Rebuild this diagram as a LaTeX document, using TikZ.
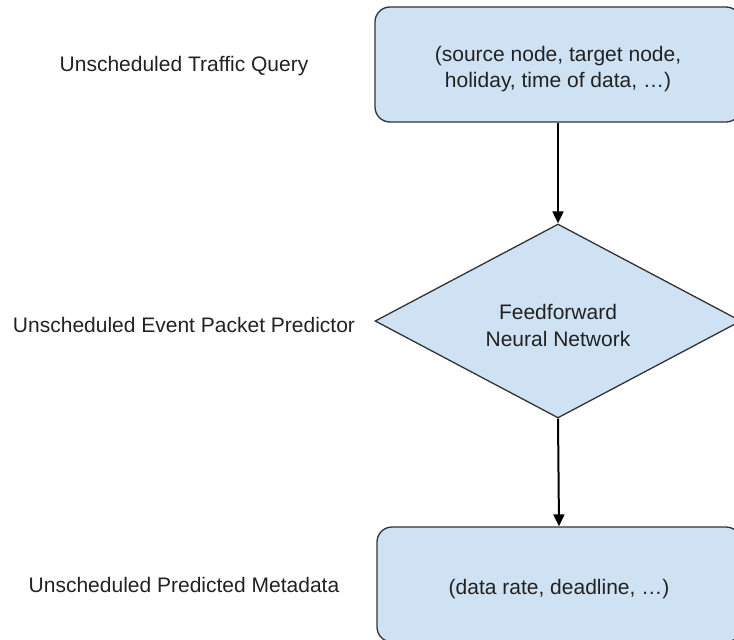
\documentclass[tikz,border=0pt]{standalone}
\usepackage{fontspec}
\setmainfont{Liberation Sans}
\usetikzlibrary{shapes.geometric,arrows.meta}
\definecolor{boxfill}{HTML}{CFE2F3}
\definecolor{boxline}{HTML}{333333}
\definecolor{txt}{HTML}{222222}
\tikzset{
  labeltext/.style={text=txt,font=\fontsize{21}{26.5}\selectfont,align=center},
  roundbox/.style={draw=boxline,fill=boxfill,line width=1.3pt,rounded corners=15pt,inner sep=0pt},
  decision/.style={diamond,draw=boxline,fill=boxfill,line width=1.3pt,inner sep=0pt},
  flow/.style={-{Triangle[length=12pt,width=11pt]},line width=2pt,black},
}
\begin{document}
\begin{tikzpicture}[x=1pt,y=-1pt]
  \useasboundingbox (0,0) rectangle (734,640);
  \clip (0,0) rectangle (734,640);
  % flow chart shapes on the right
  \node[roundbox,minimum width=366pt,minimum height=115pt] (query) at (558,64.5) {};
  \node[decision,minimum width=366pt,minimum height=194pt] (ffnn) at (558,321) {};
  \node[roundbox,minimum width=364pt,minimum height=115pt] (meta) at (559,584.5) {};
  % texts inside the shapes
  \node[labeltext] (querytext) at ([yshift=-4.5pt]query.center)
    {(source node, target node,\\holiday, time of data, …)};
  \node[labeltext] (ffnntext) at ([yshift=-4.5pt]ffnn.center)
    {Feedforward\\Neural Network};
  \node[labeltext] (metatext) at ([yshift=-5pt]meta.center)
    {(data rate, deadline, …)};
  % connectors
  \draw[flow] (query.south) -- (ffnn.north);
  \draw[flow] (ffnn.south) -- (meta.north);
  % stage captions on the left
  \node[labeltext] (capquery) at (184,66) {Unscheduled Traffic Query};
  \node[labeltext] (capffnn) at (184,325) {Unscheduled Event Packet Predictor};
  \node[labeltext] (capmeta) at (184,585) {Unscheduled Predicted Metadata};
\end{tikzpicture}
\end{document}
